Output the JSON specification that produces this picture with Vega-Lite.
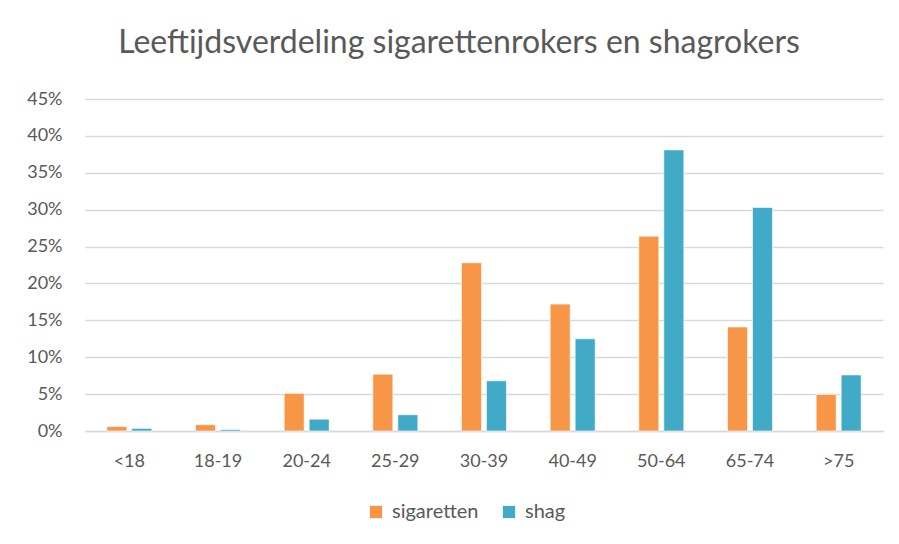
{
  "$schema": "https://vega.github.io/schema/vega-lite/v6.json",
  "width": 798,
  "height": 332,
  "autosize": {"type": "none"},
  "padding": {"left": 85, "top": 99, "right": 16, "bottom": 113},
  "background": "white",
  "title": {
    "text": "Leeftijdsverdeling sigarettenrokers en shagrokers",
    "font": "Lato",
    "fontSize": 32,
    "fontWeight": "normal",
    "color": "#595959",
    "anchor": "middle",
    "frame": "group",
    "dx": -25,
    "baseline": "alphabetic",
    "offset": 5
  },
  "data": {
    "values": [
      {"leeftijd": "<18", "soort": "sigaretten", "aandeel": 0.006},
      {"leeftijd": "<18", "soort": "shag", "aandeel": 0.0035},
      {"leeftijd": "18-19", "soort": "sigaretten", "aandeel": 0.0085},
      {"leeftijd": "18-19", "soort": "shag", "aandeel": 0.002},
      {"leeftijd": "20-24", "soort": "sigaretten", "aandeel": 0.051},
      {"leeftijd": "20-24", "soort": "shag", "aandeel": 0.016},
      {"leeftijd": "25-29", "soort": "sigaretten", "aandeel": 0.077},
      {"leeftijd": "25-29", "soort": "shag", "aandeel": 0.022},
      {"leeftijd": "30-39", "soort": "sigaretten", "aandeel": 0.228},
      {"leeftijd": "30-39", "soort": "shag", "aandeel": 0.068},
      {"leeftijd": "40-49", "soort": "sigaretten", "aandeel": 0.172},
      {"leeftijd": "40-49", "soort": "shag", "aandeel": 0.125},
      {"leeftijd": "50-64", "soort": "sigaretten", "aandeel": 0.264},
      {"leeftijd": "50-64", "soort": "shag", "aandeel": 0.381},
      {"leeftijd": "65-74", "soort": "sigaretten", "aandeel": 0.141},
      {"leeftijd": "65-74", "soort": "shag", "aandeel": 0.303},
      {"leeftijd": ">75", "soort": "sigaretten", "aandeel": 0.0495},
      {"leeftijd": ">75", "soort": "shag", "aandeel": 0.076}
    ]
  },
  "mark": {"type": "bar", "stroke": "white", "strokeOpacity": 0.6, "strokeWidth": 1},
  "encoding": {
    "x": {
      "field": "leeftijd",
      "type": "nominal",
      "sort": ["<18", "18-19", "20-24", "25-29", "30-39", "40-49", "50-64", "65-74", ">75"],
      "scale": {"paddingInner": 0, "paddingOuter": 0},
      "axis": {
        "title": null,
        "labelAngle": 0,
        "ticks": false,
        "domain": true,
        "domainColor": "#D9D9D9",
        "domainWidth": 1.5,
        "labelPadding": 21,
        "labelFont": "Lato",
        "labelFontSize": 18,
        "labelColor": "#595959",
        "grid": false
      }
    },
    "xOffset": {
      "field": "soort",
      "type": "nominal",
      "sort": ["sigaretten", "shag"],
      "scale": {"paddingInner": 0.2, "paddingOuter": 0.874}
    },
    "y": {
      "field": "aandeel",
      "type": "quantitative",
      "scale": {"domain": [0, 0.45], "nice": false},
      "axis": {
        "title": null,
        "values": [0, 0.05, 0.1, 0.15, 0.2, 0.25, 0.3, 0.35, 0.4, 0.45],
        "format": ".0%",
        "ticks": false,
        "domain": false,
        "gridColor": "#D9D9D9",
        "gridWidth": 1.5,
        "labelPadding": 23,
        "labelFont": "Lato",
        "labelFontSize": 18,
        "labelColor": "#595959"
      }
    },
    "color": {
      "field": "soort",
      "type": "nominal",
      "sort": ["sigaretten", "shag"],
      "scale": {"domain": ["sigaretten", "shag"], "range": ["#F79646", "#41ABC7"]},
      "legend": {
        "title": null,
        "orient": "none",
        "direction": "horizontal",
        "legendX": 281,
        "legendY": 403,
        "symbolType": "square",
        "symbolSize": 150,
        "symbolStrokeWidth": 0,
        "labelFont": "Lato",
        "labelFontSize": 20,
        "labelColor": "#595959",
        "labelOffset": 6,
        "columnPadding": 20
      }
    }
  },
  "config": {
    "view": {"stroke": null}
  }
}
